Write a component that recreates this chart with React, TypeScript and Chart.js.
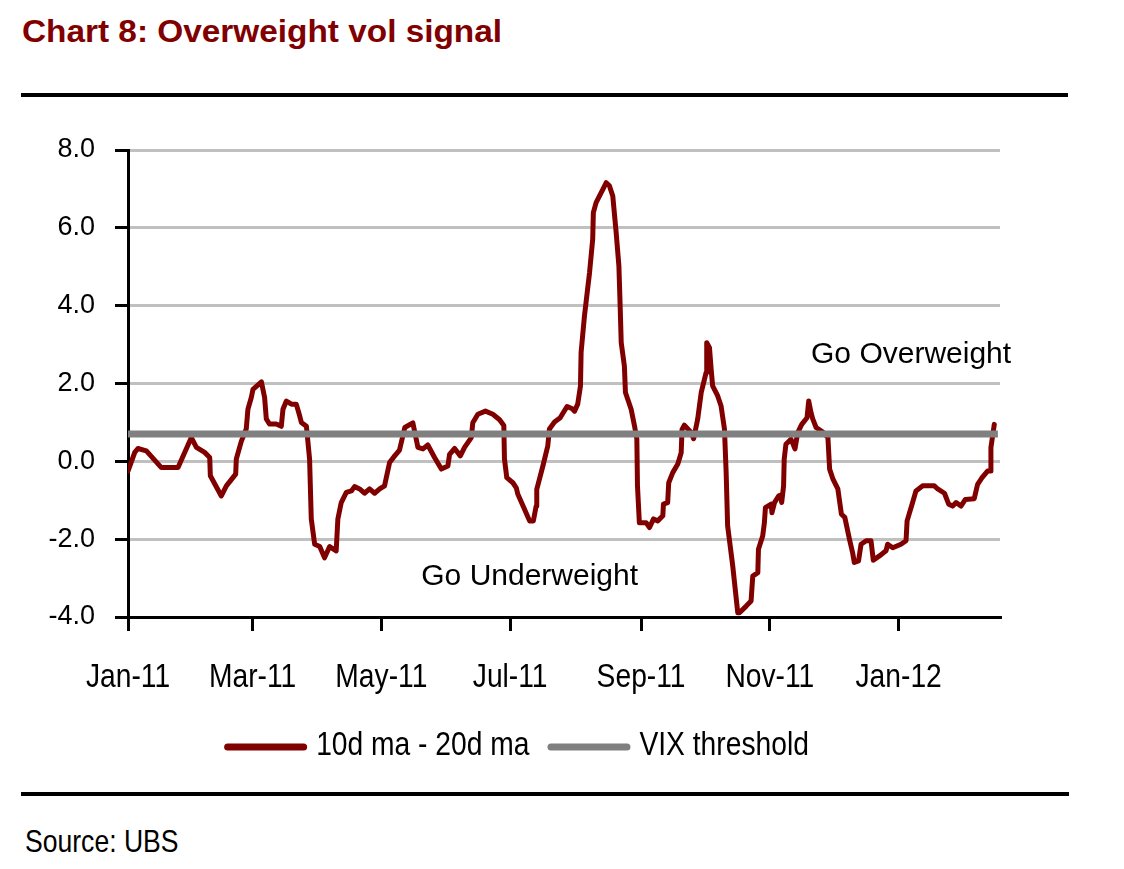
import React, { useEffect, useRef } from 'react';
import { Chart, registerables } from 'chart.js';

Chart.register(...registerables);

// ---- data (x = days since 1 Jan 2011) ----
const signalDays = [
  0, 3.2, 4.7, 8.7, 15.8, 23.7, 30, 32.4, 36.3, 38.7, 39, 44.2, 46.6, 51, 51.3, 53.7, 56, 56.8, 58.4, 59.2,
  63.2, 64.7, 65.5, 67, 70.2, 72.6, 73.4, 75, 77.4, 79.7, 81.3, 82.1, 84.5, 86, 86.8, 88.4, 90.8, 93.1, 95.5, 98.6,
  99.4, 101, 103.4, 105.8, 107.3, 109.7, 112, 114.4, 116.8, 119.2, 121.5, 123.9, 126.3, 128.6, 131.1, 134.9, 137.3, 139.7, 142, 145.2,
  148.4, 151.5, 152.3, 154.7, 157.4, 159.4, 162.6, 163.3, 165.7, 169.3, 172.8, 176, 178, 178.3, 179.4, 182.3, 183.9, 184.6, 187.8, 190.2,
  192, 193.3, 193.6, 196.5, 198.8, 199.6, 202, 204.7, 205.9, 208, 210.4, 211.5, 213, 214.3, 214.6, 216.2, 218.6, 220.1, 220.4, 221.7,
  224.9, 226.5, 228, 229.6, 231.2, 232.5, 233.1, 233.6, 235.1, 235.6, 238.3, 239.9, 241, 241.3, 242.2, 245.4, 247, 248.9, 250.9, 253.3,
  253.6, 255.6, 256.1, 258, 260.4, 262, 262.4, 263.5, 266.7, 267.9, 269.8, 271.5, 273.8, 274.1, 275.4, 276.2, 276.9, 279.3, 280.9, 282.5,
  283.3, 284, 286.4, 288.8, 289.6, 292.8, 295.1, 295.9, 298.3, 298.6, 300.6, 301.4, 301.9, 304.6, 305, 306.2, 308.2, 309.2, 309.6, 310.5,
  310.8, 311.6, 314, 315.9, 317.2, 319.1, 321.6, 322.4, 323.5, 324.3, 325.9, 329.1, 331.5, 332.3, 333.9, 336.2, 337.9, 339.5, 341.7, 343.2,
  344, 346, 347.2, 349.6, 351.9, 353, 355.9, 359, 359.8, 362.2, 366.1, 368.5, 369, 371.6, 373.2, 376.4, 381.9, 383.5, 386.7, 388.7,
  390.6, 392.2, 394.5, 396.6, 400.8, 402.4, 404.5, 407.1, 408.3, 408.7, 410.3,
];
const signalValues = [
  -0.25, 0.23, 0.33, 0.27, -0.16, -0.16, 0.61, 0.36, 0.23, 0.1, -0.37, -0.89, -0.63, -0.33, 0.06, 0.52, 0.83, 1.34, 1.64, 1.85,
  2.04, 1.64, 1.09, 0.96, 0.96, 0.9, 1.34, 1.55, 1.47, 1.47, 1.17, 1.0, 0.9, 0.06, -1.48, -2.13, -2.19, -2.48, -2.19, -2.3,
  -1.48, -1.06, -0.8, -0.76, -0.65, -0.71, -0.82, -0.71, -0.82, -0.71, -0.63, -0.03, 0.14, 0.29, 0.87, 0.99, 0.36, 0.32, 0.42, 0.1,
  -0.2, -0.12, 0.18, 0.33, 0.14, 0.36, 0.61, 0.99, 1.21, 1.29, 1.21, 1.07, 0.92, 0.06, -0.42, -0.55, -0.68, -0.84, -1.23, -1.53,
  -1.53, -1.15, -0.72, -0.12, 0.39, 0.83, 1.01, 1.12, 1.23, 1.41, 1.35, 1.29, 1.47, 1.94, 2.8, 3.74, 4.85, 5.71, 6.39, 6.65,
  6.99, 7.16, 7.08, 6.82, 5.88, 5.02, 3.99, 3.05, 2.45, 1.77, 1.34, 0.91, 0.57, -0.63, -1.58, -1.58, -1.7, -1.48, -1.53, -1.4,
  -1.1, -1.06, -0.55, -0.29, -0.07, 0.22, 0.82, 0.93, 0.74, 0.58, 1.08, 1.77, 2.28, 3.05, 2.92, 2.36, 1.94, 1.68, 1.42, 0.83,
  -0.29, -1.66, -2.68, -3.89, -3.89, -3.72, -3.59, -2.95, -2.86, -2.26, -1.92, -1.58, -1.19, -1.1, -1.32, -1.06, -0.89, -0.87, -1.06, -0.63,
  0.06, 0.44, 0.57, 0.32, 0.74, 0.95, 1.12, 1.55, 1.25, 1.09, 0.87, 0.75, 0.61, -0.2, -0.46, -0.71, -1.36, -1.44, -2.0, -2.35,
  -2.6, -2.56, -2.13, -2.04, -2.04, -2.54, -2.43, -2.3, -2.13, -2.22, -2.13, -2.04, -1.53, -1.06, -0.76, -0.63, -0.63, -0.71, -0.82, -1.1,
  -1.15, -1.06, -1.15, -0.98, -0.96, -0.59, -0.42, -0.25, -0.25, 0.35, 0.95,
];
const thresholdDays = [0, 412];
const thresholdValues = [0.7, 0.7];

const tickDays = [0, 59, 120, 181, 243, 304, 365];
const tickLabels = ['Jan-11', 'Mar-11', 'May-11', 'Jul-11', 'Sep-11', 'Nov-11', 'Jan-12'];
const seriesNames = ['10d ma - 20d ma', 'VIX threshold'];

const annotationTexts = ['Go Overweight', 'Go Underweight'];
const annotationDays = [323.5, 138.9];
const annotationValues = [2.52, -3.17];

const yMin = -4;
const yMax = 8;
const yStep = 2;
const xMin = 0;
const xMax = 413;

const RED = '#800000';
const GRAY = '#808080';
const GRID = '#c0c0c0';
const FONT = '"Liberation Sans", Arial, sans-serif';
const NARROW = 0.83; // horizontal squeeze of the condensed labels

function condensedText(ctx: CanvasRenderingContext2D, text: string, x: number, y: number, align: CanvasTextAlign) {
  ctx.save();
  ctx.translate(x, y);
  ctx.scale(NARROW, 1);
  ctx.textAlign = align;
  ctx.textBaseline = 'alphabetic';
  ctx.fillText(text, 0, 0);
  ctx.restore();
}

const textPlugin = {
  id: 'textLayer',
  afterDatasetsDraw(chart: any) {
    const { ctx, chartArea } = chart;
    const x = chart.scales.x;
    const y = chart.scales.y;
    ctx.save();
    ctx.fillStyle = '#000';
    // annotations
    ctx.font = `30px ${FONT}`;
    ctx.textAlign = 'left';
    ctx.textBaseline = 'alphabetic';
    annotationTexts.forEach((t, i) => {
      ctx.fillText(t, x.getPixelForValue(annotationDays[i]), y.getPixelForValue(annotationValues[i]));
    });
    ctx.restore();
  },
  afterDraw(chart: any) {
    const { ctx, chartArea } = chart;
    const x = chart.scales.x;
    ctx.save();
    ctx.fillStyle = '#000';
    ctx.font = `34px ${FONT}`;
    // x tick labels (condensed)
    tickDays.forEach((d, i) => {
      condensedText(ctx, tickLabels[i], x.getPixelForValue(d), chartArea.bottom + 70, 'center');
    });
    // legend
    const colors = [RED, GRAY];
    const lineLen = 76;
    const cap = 3.5;
    const gapText = 9;
    const gapItem = 18;
    const widths = seriesNames.map((s) => ctx.measureText(s).width * NARROW);
    const total = widths.reduce((a, w) => a + w, 0) + 2 * (lineLen + 2 * cap + gapText) + gapItem;
    const legendCenter = 516.5;
    let cx = legendCenter - total / 2;
    const lineY = chartArea.bottom + 130;
    const textY = chartArea.bottom + 138;
    seriesNames.forEach((s, i) => {
      ctx.save();
      ctx.strokeStyle = colors[i];
      ctx.lineWidth = 7;
      ctx.lineCap = 'round';
      ctx.beginPath();
      ctx.moveTo(cx + cap, lineY);
      ctx.lineTo(cx + cap + lineLen, lineY);
      ctx.stroke();
      ctx.restore();
      cx += lineLen + 2 * cap + gapText;
      condensedText(ctx, s, cx, textY, 'left');
      cx += widths[i] + gapItem;
    });
    ctx.restore();
  },
};

export default function App() {
  const ref = useRef<HTMLCanvasElement>(null);

  useEffect(() => {
    if (!ref.current) return;
    const chart = new Chart(ref.current, {
      type: 'line',
      data: {
        datasets: [
          {
            label: seriesNames[0],
            data: signalDays.map((d, i) => ({ x: d, y: signalValues[i] })),
            borderColor: RED,
            backgroundColor: RED,
            borderWidth: 5,
            pointRadius: 0,
            tension: 0,
            borderJoinStyle: 'round',
            borderCapStyle: 'round',
            order: 1,
          },
          {
            label: seriesNames[1],
            data: thresholdDays.map((d, i) => ({ x: d, y: thresholdValues[i] })),
            borderColor: GRAY,
            backgroundColor: GRAY,
            borderWidth: 7,
            pointRadius: 0,
            tension: 0,
            order: 0,
          },
        ],
      },
      options: {
        animation: false,
        responsive: false,
        events: [],
        layout: { padding: { top: 50, left: 33, right: 124, bottom: 83 } },
        plugins: {
          tooltip: { enabled: false },
          legend: { display: false },
        },
        scales: {
          x: {
            type: 'linear',
            min: xMin,
            max: xMax,
            afterBuildTicks: (axis: any) => {
              axis.ticks = tickDays.map((v) => ({ value: v }));
            },
            afterFit: (axis: any) => {
              axis.height = 100;
            },
            ticks: { display: false, autoSkip: false, maxRotation: 0 },
            grid: {
              drawOnChartArea: false,
              drawTicks: true,
              tickLength: 14,
              tickWidth: 3,
              tickColor: '#000',
              color: '#000',
              lineWidth: 3,
            },
            border: { display: true, color: '#000', width: 3 },
          },
          y: {
            min: yMin,
            max: yMax,
            afterFit: (axis: any) => {
              axis.width = 95;
            },
            ticks: {
              stepSize: yStep,
              padding: 20,
              color: '#000',
              font: { family: 'Liberation Sans', size: 27 },
              callback: (v: any) => Number(v).toFixed(1),
            },
            grid: {
              color: (c: any) => (c.tick && c.tick.value === yMin ? 'rgba(0,0,0,0)' : GRID),
              lineWidth: 3,
              tickLength: 13,
              tickWidth: 3,
              tickColor: '#000',
            },
            border: { display: true, color: '#000', width: 3 },
          },
        },
      },
      plugins: [textPlugin],
    } as any);
    return () => chart.destroy();
  }, []);

  return (
    <div style={{ position: 'absolute', left: 0, top: 0, width: 1124, height: 869, background: '#fff', overflow: 'hidden' }}>
      <div
        style={{
          position: 'absolute',
          left: 21.5,
          top: 15.5,
          fontFamily: FONT,
          fontWeight: 'bold',
          fontSize: 31,
          lineHeight: '31px',
          color: RED,
          whiteSpace: 'nowrap',
          transform: 'scaleX(1.076)',
          transformOrigin: 'left top',
        }}
      >
        Chart 8: Overweight vol signal
      </div>
      <div style={{ position: 'absolute', left: 21, top: 93, width: 1047, height: 4, background: '#000' }} />
      <canvas
        ref={ref}
        width={1124}
        height={700}
        style={{ position: 'absolute', left: 0, top: 100, width: 1124, height: 700, display: 'block' }}
      />
      <div style={{ position: 'absolute', left: 21, top: 792, width: 1048, height: 4, background: '#000' }} />
      <div
        style={{
          position: 'absolute',
          left: 25,
          top: 852 - 0.8465 * 32,
          fontFamily: FONT,
          fontSize: 32,
          lineHeight: '32px',
          color: '#000',
          whiteSpace: 'nowrap',
          transform: `scaleX(${NARROW})`,
          transformOrigin: 'left top',
        }}
      >
        Source: UBS
      </div>
    </div>
  );
}
